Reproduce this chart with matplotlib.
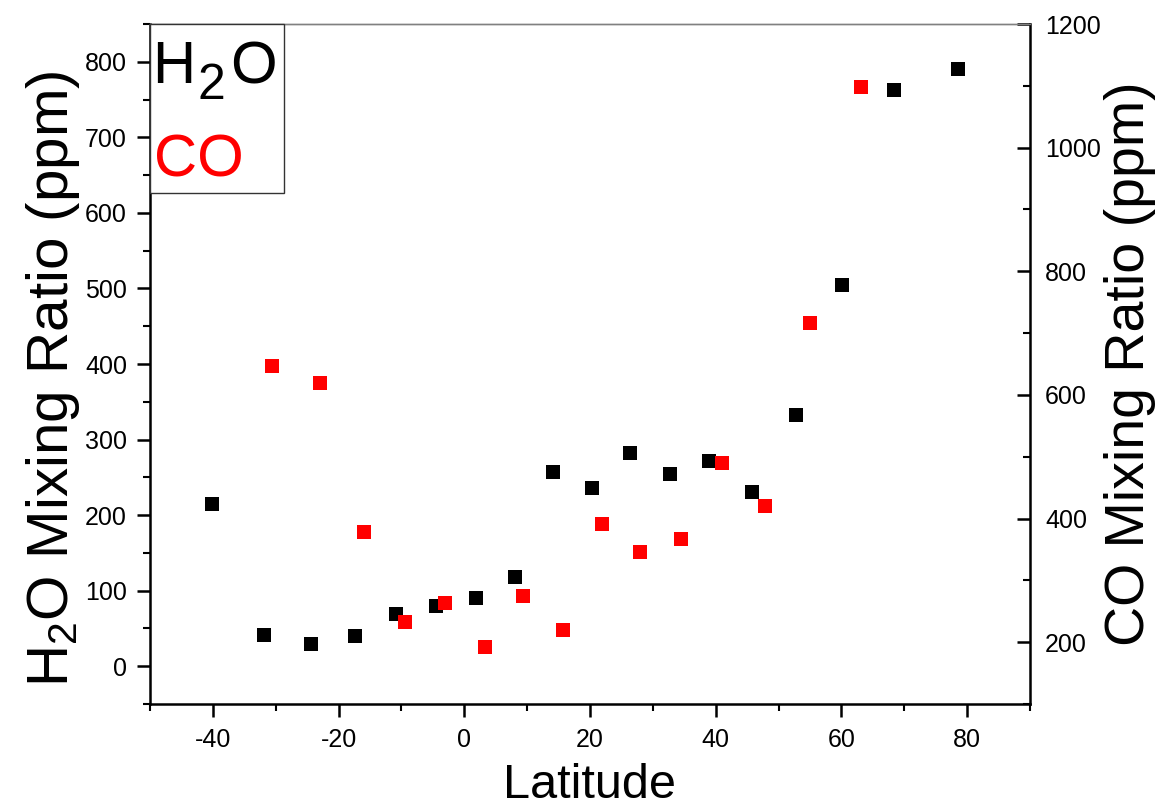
import matplotlib.pyplot as plt
from matplotlib.patches import Rectangle
from matplotlib.ticker import MultipleLocator

plt.rcParams['font.family'] = ['Liberation Sans', 'DejaVu Sans']
plt.rcParams['mathtext.fontset'] = 'custom'
plt.rcParams['mathtext.rm'] = 'Liberation Sans'
plt.rcParams['mathtext.it'] = 'Liberation Sans:italic'
plt.rcParams['axes.unicode_minus'] = False

# H2O mixing ratio vs latitude (left axis)
h2o_lat = [-40.1, -31.8, -24.3, -17.4, -10.8, -4.5, 1.8, 8.0, 14.1, 20.3,
           26.4, 32.7, 39.0, 45.8, 52.7, 60.1, 68.3, 78.6]
h2o_ppm = [215, 41, 30, 40, 69, 80, 90, 118, 257, 236,
           282, 254, 271, 230, 332, 504, 763, 790]

# CO mixing ratio vs latitude (right axis)
co_lat = [-30.6, -23.0, -16.0, -9.4, -3.0, 3.3, 9.4, 15.7, 21.9, 28.0,
          34.5, 41.0, 47.8, 55.0, 63.1]
co_ppm = [646, 619, 378, 233, 264, 192, 274, 219, 391, 346,
          367, 490, 420, 716, 1098]

fig = plt.figure(figsize=(11.57, 8.11), dpi=100)
ax = fig.add_axes([0.1296, 0.1319, 0.7606, 0.8385])
ax2 = ax.twinx()

ax.plot(h2o_lat, h2o_ppm, 's', color='black', ms=9.8, mew=0)
ax2.plot(co_lat, co_ppm, 's', color='red', ms=9.4, mew=0)

ax.set_xlim(-50, 90)
ax.set_ylim(-50, 850)
ax2.set_ylim(100, 1200)

ax.xaxis.set_major_locator(MultipleLocator(20))
ax.xaxis.set_minor_locator(MultipleLocator(10))
ax.yaxis.set_major_locator(MultipleLocator(100))
ax.yaxis.set_minor_locator(MultipleLocator(50))
ax2.yaxis.set_major_locator(MultipleLocator(200))
ax2.yaxis.set_minor_locator(MultipleLocator(100))

# spines: black left/bottom/right, thin grey top
for a in (ax, ax2):
    a.spines['top'].set_color('#808080')
    a.spines['top'].set_linewidth(1.0)
ax.spines['right'].set_visible(False)
ax2.spines['left'].set_visible(False)
ax2.spines['bottom'].set_visible(False)
for s in ('left', 'bottom'):
    ax.spines[s].set_linewidth(1.8)
ax2.spines['right'].set_linewidth(1.8)

ax.tick_params(which='major', direction='out', length=9.5, width=1.8,
               labelsize=18, pad=7)
ax.tick_params(which='minor', direction='out', length=5, width=1.5)
ax.tick_params(axis='x', which='major', pad=8)
ax2.tick_params(which='major', direction='in', length=9.5, width=1.8,
                labelsize=18, pad=11)
ax2.tick_params(which='minor', direction='in', length=5, width=1.5)

ax.set_xlabel('Latitude', fontsize=35, labelpad=8)
ax.set_ylabel('H$_2$O Mixing Ratio (ppm)', fontsize=42, labelpad=2)
ax.yaxis.label.set_y(0.478)
ax2.set_ylabel('CO Mixing Ratio (ppm)', fontsize=40, labelpad=2)

# key box in the top-left corner, series names in their marker colours
key = Rectangle((0, 0.7515), 0.152, 0.2485, transform=ax2.transAxes,
                facecolor='white', edgecolor='#333333', lw=1.0, zorder=5,
                clip_on=False)
ax2.add_patch(key)
tk = dict(transform=ax2.transAxes, va='baseline', ha='left', zorder=6)
ax2.text(0.0023, 0.913, 'H', fontsize=43, color='black', **tk)
ax2.text(0.0545, 0.8897, '2', fontsize=36, color='black', **tk)
ax2.text(0.0915, 0.913, 'O', fontsize=43, color='black', **tk)
ax2.text(0.0045, 0.776, 'CO', fontsize=43, color='red', **tk)

fig.savefig('out.png', dpi=100)
